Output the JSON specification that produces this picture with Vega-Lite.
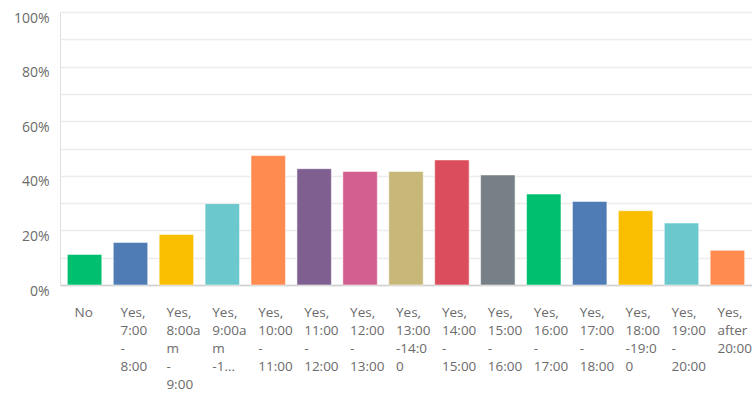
{
  "$schema": "https://vega.github.io/schema/vega-lite/v6.json",
  "width": 692,
  "height": 273,
  "autosize": "none",
  "padding": {"left": 60, "top": 12, "right": 0, "bottom": 109},
  "background": "white",
  "config": {"view": {"stroke": null}, "font": "Open Sans"},
  "data": {"values": [
    {"cat": "No", "pct": 0.112, "order": 1},
    {"cat": "Yes, 7:00 - 8:00", "pct": 0.156, "order": 2},
    {"cat": "Yes, 8:00am - 9:00", "pct": 0.185, "order": 3},
    {"cat": "Yes, 9:00am -10:00", "pct": 0.298, "order": 4},
    {"cat": "Yes, 10:00 - 11:00", "pct": 0.474, "order": 5},
    {"cat": "Yes, 11:00 - 12:00", "pct": 0.426, "order": 6},
    {"cat": "Yes, 12:00 - 13:00", "pct": 0.416, "order": 7},
    {"cat": "Yes, 13:00 -14:00", "pct": 0.416, "order": 8},
    {"cat": "Yes, 14:00 - 15:00", "pct": 0.458, "order": 9},
    {"cat": "Yes, 15:00 - 16:00", "pct": 0.403, "order": 10},
    {"cat": "Yes, 16:00 - 17:00", "pct": 0.333, "order": 11},
    {"cat": "Yes, 17:00 - 18:00", "pct": 0.306, "order": 12},
    {"cat": "Yes, 18:00 -19:00", "pct": 0.272, "order": 13},
    {"cat": "Yes, 19:00 - 20:00", "pct": 0.227, "order": 14},
    {"cat": "Yes, after 20:00", "pct": 0.127, "order": 15}
  ]},
  "mark": {"type": "bar", "stroke": "white", "strokeOpacity": 0.5, "strokeWidth": 1},
  "encoding": {
    "x": {
      "field": "cat", "type": "nominal", "sort": {"field": "order"},
      "scale": {"paddingInner": 0.25, "paddingOuter": 0.16},
      "axis": {
        "title": null, "labelAngle": 0, "labelAlign": "left", "labelOffset": -10,
        "labelBaseline": "top", "labelPadding": 20, "labelLineHeight": 18,
        "labelFontSize": 13.5, "labelColor": "#6b6b6b", "ticks": false,
        "domainColor": "#d0d0d0", "domainWidth": 1.5, "labelLimit": 200,
        "labelExpr": "datum.value == 'Yes, 8:00am - 9:00' ? ['Yes,','8:00a','m','-','9:00'] : datum.value == 'Yes, 9:00am -10:00' ? ['Yes,','9:00a','m','-1...'] : datum.value == 'Yes, 13:00 -14:00' ? ['Yes,','13:00','-14:0','0'] : datum.value == 'Yes, 18:00 -19:00' ? ['Yes,','18:00','-19:0','0'] : split(datum.value, ' ')"
      }
    },
    "y": {
      "field": "pct", "type": "quantitative",
      "scale": {"domain": [0, 1]},
      "axis": {
        "title": null, "format": ".0%", "values": [0, 0.1, 0.2, 0.3, 0.4, 0.5, 0.6, 0.7, 0.8, 0.9, 1],
        "labelExpr": "round(datum.value * 10) % 2 == 0 ? datum.label : ''",
        "ticks": false, "grid": true, "gridColor": "#ececec", "gridWidth": 1.5,
        "labelFontSize": 14, "labelColor": "#6b6b6b",
        "labelPadding": 11, "labelOffset": 6, "domainColor": "#e0e0e0"
      }
    },
    "color": {
      "field": "cat", "type": "nominal", "legend": null,
      "scale": {
        "domain": ["No", "Yes, 7:00 - 8:00", "Yes, 8:00am - 9:00", "Yes, 9:00am -10:00", "Yes, 10:00 - 11:00", "Yes, 11:00 - 12:00", "Yes, 12:00 - 13:00", "Yes, 13:00 -14:00", "Yes, 14:00 - 15:00", "Yes, 15:00 - 16:00", "Yes, 16:00 - 17:00", "Yes, 17:00 - 18:00", "Yes, 18:00 -19:00", "Yes, 19:00 - 20:00", "Yes, after 20:00"],
        "range": ["#00BF6F", "#507CB6", "#F9BE00", "#6BC8CD", "#FF8B4F", "#7F5F90", "#D25F90", "#C7B879", "#DB4D5C", "#768086", "#00BF6F", "#507CB6", "#F9BE00", "#6BC8CD", "#FF8B4F"]
      }
    }
  }
}
